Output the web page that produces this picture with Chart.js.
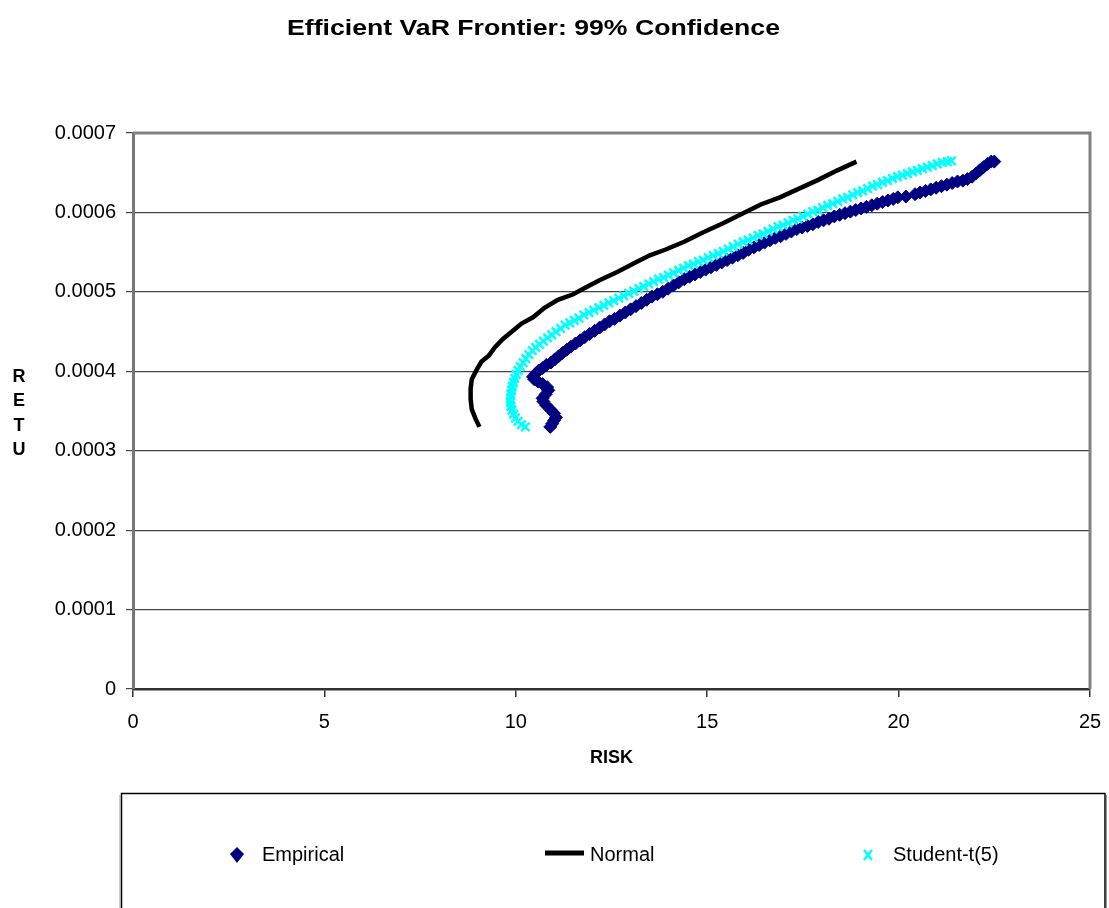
<!DOCTYPE html>
<html lang="en">
<head>
  <meta charset="UTF-8">
  <script src="https://cdn.jsdelivr.net/npm/chart.js"></script>
  <title>Efficient VaR Frontier</title>
  <style>
    body { margin: 0; background: #fff; }
  </style>
</head>
<body>
  <canvas id="chart" width="1109" height="908"></canvas>
  <script>
    // values (risk on x, return on y)
    const empiricalRisk = [10.90, 10.95, 11.00, 11.05, 11.00, 10.90, 10.80, 10.72, 10.70, 10.78, 10.85, 10.82,
      10.70, 10.58, 10.48, 10.45, 10.52, 10.60, 10.70, 10.80, 10.92, 11.02, 11.12, 11.22, 11.33, 11.44, 11.56,
      11.68, 11.80, 11.93, 12.06, 12.19, 12.32, 12.45, 12.58, 12.72, 12.86, 13.00, 13.14, 13.28, 13.42, 13.56,
      13.70, 13.84, 13.98, 14.12, 14.26, 14.40, 14.54, 14.68, 14.82, 14.96, 15.10, 15.24, 15.38, 15.52, 15.66,
      15.80, 15.94, 16.08, 16.22, 16.36, 16.50, 16.64, 16.78, 16.92, 17.06, 17.20, 17.34, 17.48, 17.62, 17.76,
      17.90, 18.04, 18.18, 18.32, 18.46, 18.60, 18.74, 18.88, 19.02, 19.16, 19.30, 19.44, 19.58, 19.72, 19.86,
      19.98, 20.19, 20.43, 20.56, 20.70, 20.84, 20.98, 21.12, 21.26, 21.40, 21.54, 21.68, 21.80, 21.92, 22.02,
      22.12, 22.22, 22.32, 22.42, 22.50]
    const empiricalReturn = [0.000330, 0.000334, 0.000338, 0.000342, 0.000347, 0.000352, 0.000357, 0.000362,
      0.000366, 0.000371, 0.000376, 0.000380, 0.000384, 0.000387, 0.000390, 0.000393, 0.000397, 0.000401,
      0.000404, 0.000408, 0.000411, 0.000415, 0.000419, 0.000423, 0.000427, 0.000431, 0.000435, 0.000439,
      0.000443, 0.000447, 0.000451, 0.000455, 0.000459, 0.000463, 0.000466, 0.000470, 0.000474, 0.000478,
      0.000482, 0.000486, 0.000490, 0.000494, 0.000497, 0.000500, 0.000504, 0.000508, 0.000512, 0.000516,
      0.000519, 0.000522, 0.000525, 0.000528, 0.000531, 0.000534, 0.000537, 0.000540, 0.000543, 0.000546,
      0.000549, 0.000553, 0.000556, 0.000559, 0.000562, 0.000565, 0.000568, 0.000570, 0.000573, 0.000576,
      0.000579, 0.000581, 0.000583, 0.000585, 0.000588, 0.000590, 0.000592, 0.000595, 0.000597, 0.000599,
      0.000601, 0.000603, 0.000605, 0.000607, 0.000609, 0.000611, 0.000613, 0.000615, 0.000617, 0.000619,
      0.000620, 0.000623, 0.000625, 0.000627, 0.000629, 0.000631, 0.000633, 0.000635, 0.000637, 0.000639,
      0.000640, 0.000642, 0.000645, 0.000649, 0.000653, 0.000657, 0.000661, 0.000664, 0.000664]

    const normalRisk = [9.05, 8.95, 8.85, 8.82, 8.82, 8.85, 8.98, 9.10, 9.30, 9.45, 9.65, 9.90, 10.15, 10.45,
      10.75, 11.10, 11.50, 11.85, 12.20, 12.65, 13.05, 13.50, 13.90, 14.40, 14.90, 15.40, 15.90, 16.40, 16.90,
      17.40, 17.90, 18.40, 18.90]
    const normalReturn = [0.000330, 0.000340, 0.000352, 0.000365, 0.000378, 0.000390, 0.000402, 0.000412,
      0.000420, 0.000430, 0.000440, 0.000450, 0.000460, 0.000468, 0.000480, 0.000490, 0.000497, 0.000506,
      0.000515, 0.000525, 0.000535, 0.000546, 0.000553, 0.000563, 0.000575, 0.000586, 0.000598, 0.000610,
      0.000619, 0.000630, 0.000641, 0.000653, 0.000664]

    const studentRisk = [10.25, 10.15, 10.06, 9.99, 9.94, 9.90, 9.87, 9.86, 9.86, 9.87, 9.89, 9.91, 9.94, 9.97,
      10.01, 10.06, 10.12, 10.19, 10.26, 10.34, 10.43, 10.52, 10.62, 10.72, 10.83, 10.94, 11.05, 11.17, 11.29,
      11.41, 11.53, 11.65, 11.78, 11.91, 12.04, 12.17, 12.30, 12.43, 12.56, 12.69, 12.82, 12.95, 13.08, 13.21,
      13.34, 13.47, 13.60, 13.73, 13.86, 13.99, 14.12, 14.25, 14.38, 14.51, 14.64, 14.77, 14.90, 15.03, 15.16,
      15.29, 15.42, 15.55, 15.68, 15.81, 15.94, 16.07, 16.20, 16.33, 16.46, 16.59, 16.72, 16.85, 16.98, 17.11,
      17.24, 17.37, 17.50, 17.63, 17.76, 17.89, 18.02, 18.15, 18.28, 18.41, 18.54, 18.67, 18.80, 18.93, 19.06,
      19.19, 19.32, 19.45, 19.58, 19.71, 19.84, 19.97, 20.10, 20.23, 20.36, 20.49, 20.62, 20.75, 20.88, 21.01,
      21.14, 21.27, 21.38]
    const studentReturn = [0.000330, 0.000333, 0.000337, 0.000341, 0.000346, 0.000351, 0.000356, 0.000361,
      0.000366, 0.000371, 0.000376, 0.000381, 0.000386, 0.000391, 0.000396, 0.000401, 0.000406, 0.000411,
      0.000416, 0.000421, 0.000426, 0.000430, 0.000434, 0.000438, 0.000442, 0.000446, 0.000450, 0.000454,
      0.000458, 0.000461, 0.000464, 0.000467, 0.000471, 0.000474, 0.000477, 0.000480, 0.000483, 0.000486,
      0.000489, 0.000492, 0.000495, 0.000498, 0.000501, 0.000504, 0.000507, 0.000510, 0.000513, 0.000516,
      0.000518, 0.000521, 0.000524, 0.000527, 0.000530, 0.000533, 0.000535, 0.000538, 0.000540, 0.000543,
      0.000546, 0.000548, 0.000551, 0.000554, 0.000557, 0.000560, 0.000563, 0.000565, 0.000568, 0.000571,
      0.000573, 0.000576, 0.000579, 0.000582, 0.000584, 0.000587, 0.000590, 0.000592, 0.000595, 0.000598,
      0.000601, 0.000603, 0.000606, 0.000609, 0.000611, 0.000614, 0.000617, 0.000619, 0.000622, 0.000625,
      0.000627, 0.000630, 0.000633, 0.000635, 0.000638, 0.000640, 0.000643, 0.000645, 0.000647, 0.000649,
      0.000651, 0.000653, 0.000655, 0.000657, 0.000659, 0.000661, 0.000663, 0.000664, 0.000665]

    const seriesNames = ['Empirical', 'Normal', 'Student-t(5)']
    const chartTitle = 'Efficient VaR Frontier: 99% Confidence'
    const xTitle = 'RISK'
    const yTitle = 'RETU'

    const font = "'Liberation Sans', Arial, sans-serif"
    Chart.defaults.font.family = font
    Chart.defaults.color = '#000'

    function toPoints(xs, ys) {
      return xs.map((x, i) => ({x: x, y: ys[i]}))
    }

    // title, y-axis letters, frame and legend box
    const decor = {
      id: 'decor',
      beforeDatasetsDraw(chart) {
        const {ctx, chartArea: a} = chart
        ctx.save()
        ctx.strokeStyle = '#808080'
        ctx.lineWidth = 3
        ctx.beginPath()
        ctx.moveTo(a.left, a.top)
        ctx.lineTo(a.right, a.top)
        ctx.lineTo(a.right, a.bottom)
        ctx.stroke()
        ctx.restore()
      },
      afterDraw(chart) {
        const ctx = chart.ctx
        const ds = chart.data.datasets
        ctx.save()
        ctx.fillStyle = '#000'

        // chart title, stretched a little like the original
        ctx.font = 'bold 22px ' + font
        ctx.textAlign = 'center'
        ctx.textBaseline = 'alphabetic'
        const tw = ctx.measureText(chartTitle).width
        ctx.save()
        ctx.translate(533.5, 35)
        ctx.scale(493 / tw, 1)
        ctx.fillText(chartTitle, 0, 0)
        ctx.restore()

        // vertical y title, one letter per line
        ctx.font = 'bold 18px ' + font
        yTitle.split('').forEach((ch, i) => {
          ctx.fillText(ch, 19, 382 + i * 24.3)
        })

        // legend box
        ctx.strokeStyle = '#000'
        ctx.lineWidth = 1.5
        ctx.strokeRect(121.5, 793.5, 983.5, 130)
        ctx.strokeStyle = '#999'
        ctx.lineWidth = 1
        ctx.beginPath()
        ctx.moveTo(120, 795); ctx.lineTo(120, 908)
        ctx.moveTo(1106.5, 795); ctx.lineTo(1106.5, 908)
        ctx.stroke()

        const ly = 855
        ctx.font = '20px ' + font
        ctx.textAlign = 'left'
        ctx.textBaseline = 'middle'

        // Empirical: diamond
        ctx.fillStyle = ds[0].backgroundColor
        ctx.beginPath()
        ctx.moveTo(237, ly - 8)
        ctx.lineTo(244, ly - 1)
        ctx.lineTo(237, ly + 8)
        ctx.lineTo(230, ly - 1)
        ctx.closePath()
        ctx.fill()
        ctx.fillStyle = '#000'
        ctx.fillText(seriesNames[0], 262, ly)

        // Normal: thick line
        ctx.strokeStyle = ds[1].borderColor
        ctx.lineWidth = 5
        ctx.beginPath()
        ctx.moveTo(545, ly - 2); ctx.lineTo(584, ly - 2)
        ctx.stroke()
        ctx.fillText(seriesNames[1], 590, ly)

        // Student-t: x mark
        ctx.strokeStyle = ds[2].borderColor
        ctx.lineWidth = 2.5
        ctx.beginPath()
        ctx.moveTo(864, ly - 5); ctx.lineTo(872, ly + 5)
        ctx.moveTo(872, ly - 5); ctx.lineTo(864, ly + 5)
        ctx.stroke()
        ctx.fillStyle = '#000'
        ctx.fillText(seriesNames[2], 893, ly)

        ctx.restore()
      }
    }

    const ctx = document.getElementById('chart')
    new Chart(ctx, {
      type: 'scatter',
      data: {
        datasets: [{
          label: seriesNames[0],
          data: toPoints(empiricalRisk, empiricalReturn),
          pointStyle: 'rectRot',
          pointRadius: 6.5,
          backgroundColor: '#000080',
          borderColor: '#000080',
          borderWidth: 1,
          order: 3
        }, {
          label: seriesNames[1],
          data: toPoints(normalRisk, normalReturn),
          showLine: true,
          pointRadius: 0,
          borderColor: '#000',
          borderWidth: 4.5,
          order: 2
        }, {
          label: seriesNames[2],
          data: toPoints(studentRisk, studentReturn),
          pointStyle: 'crossRot',
          pointRadius: 6,
          borderColor: '#00ffff',
          backgroundColor: '#00ffff',
          borderWidth: 2.5,
          order: 1
        }]
      },
      options: {
        responsive: false,
        animation: false,
        layout: { padding: { left: 0, right: 19, top: 133, bottom: 0 } },
        plugins: {
          legend: { display: false },
          title: { display: false },
          tooltip: { enabled: false }
        },
        scales: {
          x: {
            type: 'linear',
            min: 0,
            max: 25,
            afterFit: (s) => { s.height = 219; s.paddingRight = 0; s.paddingLeft = 0 },
            ticks: { stepSize: 5, font: { size: 20 }, padding: 13 },
            grid: { drawOnChartArea: false, drawTicks: true, tickLength: 8, color: '#333', lineWidth: 1.5 },
            border: { color: '#333', width: 2.5 },
            title: { display: true, text: xTitle, font: { size: 18, weight: 'bold' }, padding: { top: 0, bottom: 139 } }
          },
          y: {
            type: 'linear',
            min: 0,
            max: 0.0007,
            afterFit: (s) => { s.width = 133 },
            ticks: {
              stepSize: 0.0001,
              font: { size: 20 },
              padding: 10,
              callback: (v) => v === 0 ? '0' : v.toFixed(4)
            },
            grid: { tickLength: 7, color: '#444', lineWidth: 1.2 },
            border: { color: '#777', width: 3 }
          }
        }
      },
      plugins: [decor]
    })
  </script>
</body>
</html>
